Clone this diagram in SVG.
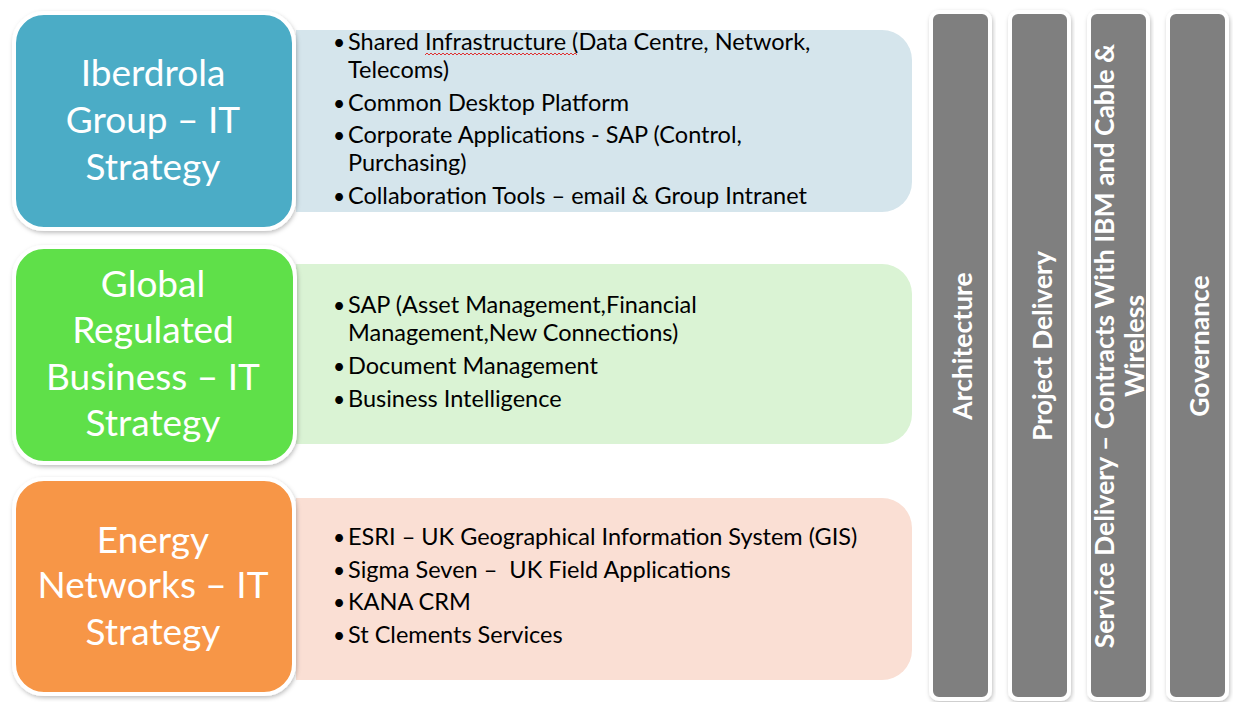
<svg xmlns="http://www.w3.org/2000/svg" width="1234" height="702" viewBox="0 0 1234 702">
<defs>
<filter id="sh" x="-10%" y="-10%" width="120%" height="120%">
<feDropShadow dx="1" dy="2" stdDeviation="2" flood-color="#000" flood-opacity="0.25"/>
</filter>
</defs>
<style>
.box{stroke:#fff;stroke-width:4;filter:url(#sh)}
.btxt{font-family:Lato,"Open Sans","Liberation Sans",sans-serif;font-size:37px;fill:#fff;text-anchor:middle}
.li{font-family:Lato,"Open Sans","Liberation Sans",sans-serif;font-size:23.5px;fill:#000}
.bu{font-family:Lato,"Liberation Sans",sans-serif;font-size:21px;fill:#000}
.col{fill:#7f7f7f;stroke:#fff;stroke-width:4;filter:url(#sh)}
.ctxt{font-family:Lato,"Open Sans","Liberation Sans",sans-serif;font-size:26.5px;font-weight:bold;fill:#fff;text-anchor:middle}
</style>
<rect width="1234" height="702" fill="#fff"/>

<g id="panel1">
<path d="M296 30 H882 A30 30 0 0 1 912 60 V182 A30 30 0 0 1 882 212 H296 Z" fill="#d5e5ec"/>
<text class="bu" x="333" y="50">•</text>
<text class="li" x="348" y="50">Shared Infrastructure (Data Centre, Network,</text>
<text class="li" x="348" y="78">Telecoms)</text>
<text class="bu" x="333" y="111">•</text>
<text class="li" x="348" y="111">Common Desktop Platform</text>
<text class="bu" x="333" y="143">•</text>
<text class="li" x="348" y="143">Corporate Applications - SAP (Control,</text>
<text class="li" x="348" y="171">Purchasing)</text>
<text class="bu" x="333" y="204">•</text>
<text class="li" x="348" y="204">Collaboration Tools – email &amp; Group Intranet</text>
<path d="M425 55 l2 -2 l2 2 l2 -2 l2 2 l2 -2 l2 2 l2 -2 l2 2 l2 -2 l2 2 l2 -2 l2 2 l2 -2 l2 2 l2 -2 l2 2 l2 -2 l2 2 l2 -2 l2 2 l2 -2 l2 2 l2 -2 l2 2 l2 -2 l2 2 l2 -2 l2 2 l2 -2 l2 2 l2 -2 l2 2 l2 -2 l2 2 l2 -2 l2 2 l2 -2 l2 2 l2 -2 l2 2 l2 -2 l2 2 l2 -2 l2 2 l2 -2 l2 2 l2 -2 l2 2 l2 -2 l2 2 l2 -2 l2 2 l2 -2 l2 2 l2 -2 l2 2 l2 -2 l2 2 l2 -2 l2 2 l2 -2 l2 2 l2 -2 l2 2 l2 -2 l2 2 l2 -2 l2 2 l2 -2 l2 2 l2 -2 l2 2 l2 -2 l2 2 l2 -2 l2 2" fill="none" stroke="#e03030" stroke-width="1"/>
</g>

<g id="panel2">
<path d="M296 264 H882 A30 30 0 0 1 912 294 V414 A30 30 0 0 1 882 444 H296 Z" fill="#daf3d4"/>
<text class="bu" x="333" y="313">•</text>
<text class="li" x="348" y="313">SAP (Asset Management,Financial</text>
<text class="li" x="348" y="341">Management,New Connections)</text>
<text class="bu" x="333" y="374">•</text>
<text class="li" x="348" y="374">Document Management</text>
<text class="bu" x="333" y="407">•</text>
<text class="li" x="348" y="407">Business Intelligence</text>
</g>

<g id="panel3">
<path d="M296 498 H882 A30 30 0 0 1 912 528 V650 A30 30 0 0 1 882 680 H296 Z" fill="#fadfd4"/>
<text class="bu" x="333" y="545">•</text>
<text class="li" x="348" y="545">ESRI – UK Geographical Information System (GIS)</text>
<text class="bu" x="333" y="578">•</text>
<text class="li" x="348" y="578" xml:space="preserve">Sigma Seven –  UK Field Applications</text>
<text class="bu" x="333" y="610">•</text>
<text class="li" x="348" y="610">KANA CRM</text>
<text class="bu" x="333" y="643">•</text>
<text class="li" x="348" y="643">St Clements Services</text>
</g>

<g id="box1">
<rect class="box" x="14" y="13" width="280" height="216" rx="30" fill="#4bacc6"/>
<text class="btxt" x="153" y="86">Iberdrola</text>
<text class="btxt" x="153" y="133">Group – IT</text>
<text class="btxt" x="153" y="180">Strategy</text>
</g>

<g id="box2">
<rect class="box" x="14" y="247" width="281" height="216" rx="30" fill="#5fe04a"/>
<text class="btxt" x="153" y="297">Global</text>
<text class="btxt" x="153" y="343">Regulated</text>
<text class="btxt" x="153" y="390">Business – IT</text>
<text class="btxt" x="153" y="436">Strategy</text>
</g>

<g id="box3">
<rect class="box" x="14" y="479" width="280" height="215" rx="30" fill="#f79646"/>
<text class="btxt" x="153" y="553">Energy</text>
<text class="btxt" x="153" y="598">Networks – IT</text>
<text class="btxt" x="153" y="645">Strategy</text>
</g>

<g id="col1">
<rect class="col" x="931" y="12" width="59" height="687" rx="8"/>
<text class="ctxt" transform="translate(972 346) rotate(-90)">Architecture</text>
</g>
<g id="col2">
<rect class="col" x="1010" y="12" width="59" height="687" rx="8"/>
<text class="ctxt" transform="translate(1052 346) rotate(-90)">Project Delivery</text>
</g>
<g id="col3">
<rect class="col" x="1089" y="12" width="59" height="687" rx="8"/>
<text class="ctxt" transform="translate(1114 346) rotate(-90)">Service Delivery – Contracts With IBM and Cable &amp;</text>
<text class="ctxt" transform="translate(1144 346) rotate(-90)">Wireless</text>
</g>
<g id="col4">
<rect class="col" x="1168" y="12" width="59" height="687" rx="8"/>
<text class="ctxt" transform="translate(1209 346) rotate(-90)">Governance</text>
</g>
<g id="connectors"/>
</svg>
